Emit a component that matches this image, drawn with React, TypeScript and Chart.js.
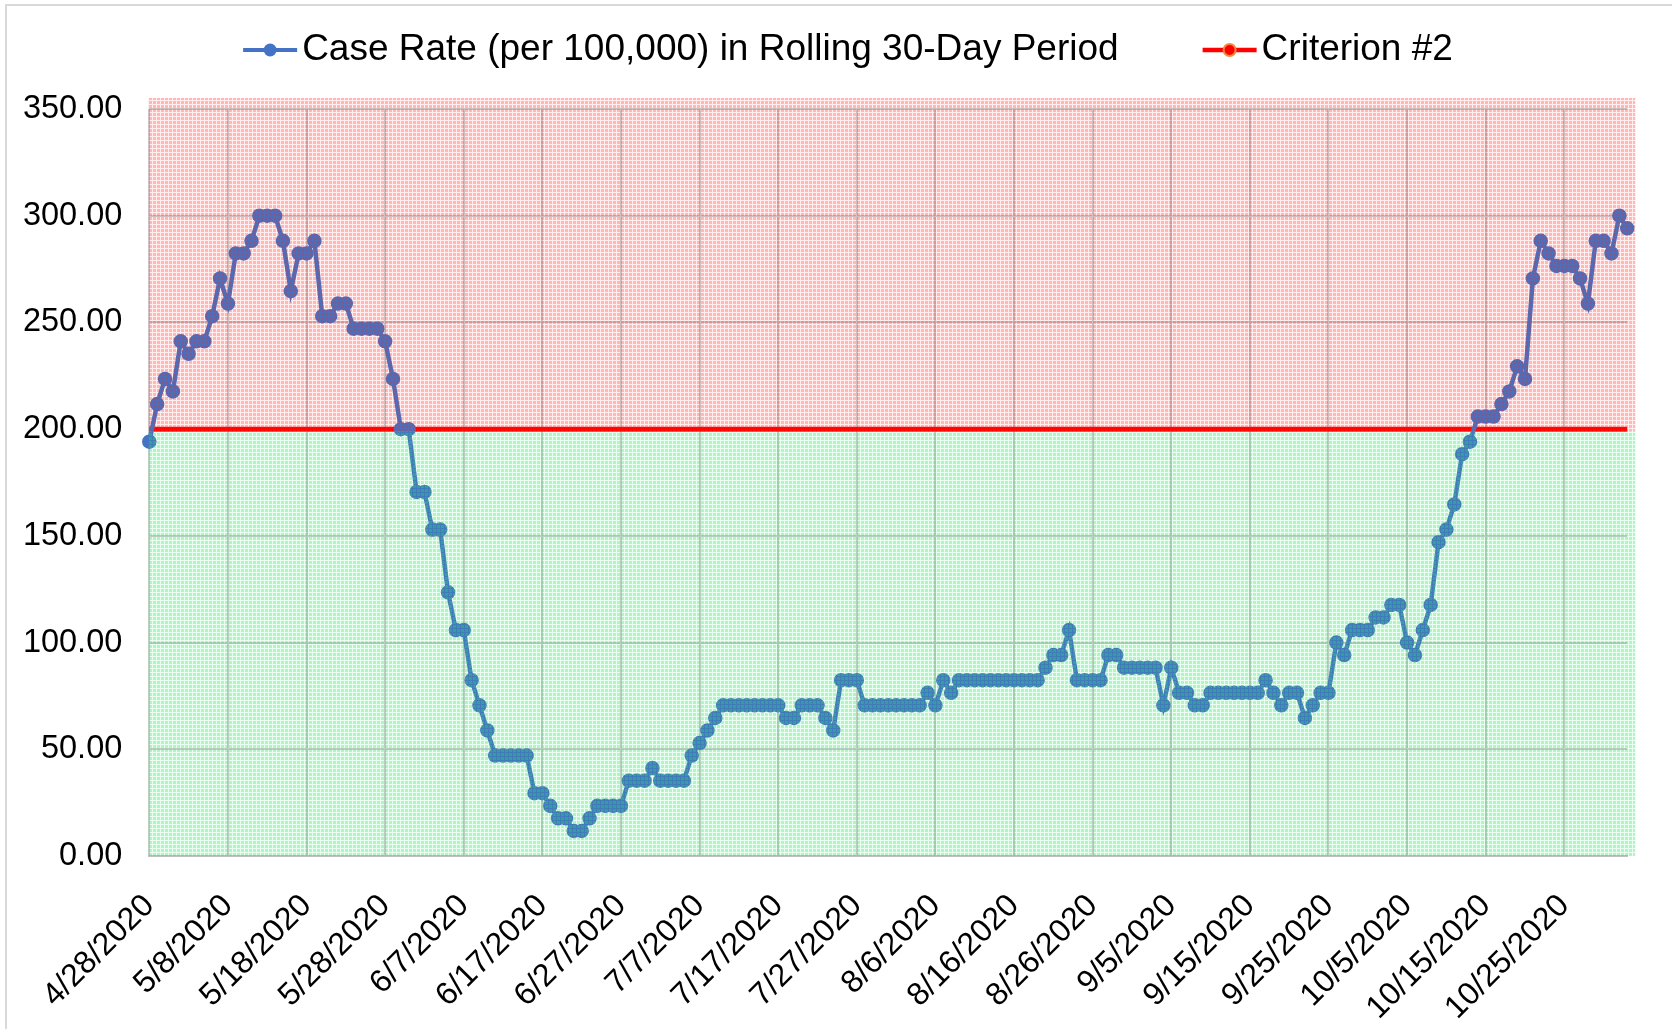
import React, { useEffect, useRef } from "react";
import { Chart, registerables } from "chart.js";

Chart.register(...registerables);

const FONT = "'Liberation Sans', Arial, sans-serif";

const dates = [
  "4/28/2020", "4/29/2020", "4/30/2020",
  "5/1/2020", "5/2/2020", "5/3/2020", "5/4/2020", "5/5/2020", "5/6/2020", "5/7/2020", "5/8/2020", "5/9/2020", "5/10/2020",
  "5/11/2020", "5/12/2020", "5/13/2020", "5/14/2020", "5/15/2020", "5/16/2020", "5/17/2020", "5/18/2020", "5/19/2020", "5/20/2020",
  "5/21/2020", "5/22/2020", "5/23/2020", "5/24/2020", "5/25/2020", "5/26/2020", "5/27/2020", "5/28/2020", "5/29/2020", "5/30/2020", "5/31/2020",
  "6/1/2020", "6/2/2020", "6/3/2020", "6/4/2020", "6/5/2020", "6/6/2020", "6/7/2020", "6/8/2020", "6/9/2020", "6/10/2020",
  "6/11/2020", "6/12/2020", "6/13/2020", "6/14/2020", "6/15/2020", "6/16/2020", "6/17/2020", "6/18/2020", "6/19/2020", "6/20/2020",
  "6/21/2020", "6/22/2020", "6/23/2020", "6/24/2020", "6/25/2020", "6/26/2020", "6/27/2020", "6/28/2020", "6/29/2020", "6/30/2020",
  "7/1/2020", "7/2/2020", "7/3/2020", "7/4/2020", "7/5/2020", "7/6/2020", "7/7/2020", "7/8/2020", "7/9/2020", "7/10/2020",
  "7/11/2020", "7/12/2020", "7/13/2020", "7/14/2020", "7/15/2020", "7/16/2020", "7/17/2020", "7/18/2020", "7/19/2020", "7/20/2020",
  "7/21/2020", "7/22/2020", "7/23/2020", "7/24/2020", "7/25/2020", "7/26/2020", "7/27/2020", "7/28/2020", "7/29/2020", "7/30/2020", "7/31/2020",
  "8/1/2020", "8/2/2020", "8/3/2020", "8/4/2020", "8/5/2020", "8/6/2020", "8/7/2020", "8/8/2020", "8/9/2020", "8/10/2020",
  "8/11/2020", "8/12/2020", "8/13/2020", "8/14/2020", "8/15/2020", "8/16/2020", "8/17/2020", "8/18/2020", "8/19/2020", "8/20/2020",
  "8/21/2020", "8/22/2020", "8/23/2020", "8/24/2020", "8/25/2020", "8/26/2020", "8/27/2020", "8/28/2020", "8/29/2020", "8/30/2020", "8/31/2020",
  "9/1/2020", "9/2/2020", "9/3/2020", "9/4/2020", "9/5/2020", "9/6/2020", "9/7/2020", "9/8/2020", "9/9/2020", "9/10/2020",
  "9/11/2020", "9/12/2020", "9/13/2020", "9/14/2020", "9/15/2020", "9/16/2020", "9/17/2020", "9/18/2020", "9/19/2020", "9/20/2020",
  "9/21/2020", "9/22/2020", "9/23/2020", "9/24/2020", "9/25/2020", "9/26/2020", "9/27/2020", "9/28/2020", "9/29/2020", "9/30/2020",
  "10/1/2020", "10/2/2020", "10/3/2020", "10/4/2020", "10/5/2020", "10/6/2020", "10/7/2020", "10/8/2020", "10/9/2020", "10/10/2020",
  "10/11/2020", "10/12/2020", "10/13/2020", "10/14/2020", "10/15/2020", "10/16/2020", "10/17/2020", "10/18/2020", "10/19/2020", "10/20/2020",
  "10/21/2020", "10/22/2020", "10/23/2020", "10/24/2020", "10/25/2020", "10/26/2020", "10/27/2020", "10/28/2020", "10/29/2020", "10/30/2020", "10/31/2020",
  "11/1/2020", "11/2/2020",
];

const caseRate = [
  194.12, 211.76, 223.53, 217.65, 241.18, 235.29, 241.18, 241.18, 252.94, 270.59,
  258.82, 282.35, 282.35, 288.24, 300.0, 300.0, 300.0, 288.24, 264.71, 282.35,
  282.35, 288.24, 252.94, 252.94, 258.82, 258.82, 247.06, 247.06, 247.06, 247.06,
  241.18, 223.53, 200.0, 200.0, 170.59, 170.59, 152.94, 152.94, 123.53, 105.88,
  105.88, 82.35, 70.59, 58.82, 47.06, 47.06, 47.06, 47.06, 47.06, 29.41,
  29.41, 23.53, 17.65, 17.65, 11.76, 11.76, 17.65, 23.53, 23.53, 23.53,
  23.53, 35.29, 35.29, 35.29, 41.18, 35.29, 35.29, 35.29, 35.29, 47.06,
  52.94, 58.82, 64.71, 70.59, 70.59, 70.59, 70.59, 70.59, 70.59, 70.59,
  70.59, 64.71, 64.71, 70.59, 70.59, 70.59, 64.71, 58.82, 82.35, 82.35,
  82.35, 70.59, 70.59, 70.59, 70.59, 70.59, 70.59, 70.59, 70.59, 76.47,
  70.59, 82.35, 76.47, 82.35, 82.35, 82.35, 82.35, 82.35, 82.35, 82.35,
  82.35, 82.35, 82.35, 82.35, 88.24, 94.12, 94.12, 105.88, 82.35, 82.35,
  82.35, 82.35, 94.12, 94.12, 88.24, 88.24, 88.24, 88.24, 88.24, 70.59,
  88.24, 76.47, 76.47, 70.59, 70.59, 76.47, 76.47, 76.47, 76.47, 76.47,
  76.47, 76.47, 82.35, 76.47, 70.59, 76.47, 76.47, 64.71, 70.59, 76.47,
  76.47, 100.0, 94.12, 105.88, 105.88, 105.88, 111.76, 111.76, 117.65, 117.65,
  100.0, 94.12, 105.88, 117.65, 147.06, 152.94, 164.71, 188.24, 194.12, 205.88,
  205.88, 205.88, 211.76, 217.65, 229.41, 223.53, 270.59, 288.24, 282.35, 276.47,
  276.47, 276.47, 270.59, 258.82, 288.24, 288.24, 282.35, 300.0, 294.12,
];

const criterion = [
  200, 200, 200, 200, 200, 200, 200, 200, 200, 200, 200, 200, 200, 200, 200, 200, 200, 200, 200, 200,
  200, 200, 200, 200, 200, 200, 200, 200, 200, 200, 200, 200, 200, 200, 200, 200, 200, 200, 200, 200,
  200, 200, 200, 200, 200, 200, 200, 200, 200, 200, 200, 200, 200, 200, 200, 200, 200, 200, 200, 200,
  200, 200, 200, 200, 200, 200, 200, 200, 200, 200, 200, 200, 200, 200, 200, 200, 200, 200, 200, 200,
  200, 200, 200, 200, 200, 200, 200, 200, 200, 200, 200, 200, 200, 200, 200, 200, 200, 200, 200, 200,
  200, 200, 200, 200, 200, 200, 200, 200, 200, 200, 200, 200, 200, 200, 200, 200, 200, 200, 200, 200,
  200, 200, 200, 200, 200, 200, 200, 200, 200, 200, 200, 200, 200, 200, 200, 200, 200, 200, 200, 200,
  200, 200, 200, 200, 200, 200, 200, 200, 200, 200, 200, 200, 200, 200, 200, 200, 200, 200, 200, 200,
  200, 200, 200, 200, 200, 200, 200, 200, 200, 200, 200, 200, 200, 200, 200, 200, 200, 200, 200, 200,
  200, 200, 200, 200, 200, 200, 200, 200, 200,
];

const seriesNames = ["Case Rate (per 100,000) in Rolling 30-Day Period", "Criterion #2"];
const yTickValues = [0, 50, 100, 150, 200, 250, 300, 350];
const threshold = 200;

const BLUE = "#4472C4";
const RED = "#FF0000";

function makePattern(ctx: CanvasRenderingContext2D, rgb: string, a1: number, a2: number) {
  const c = document.createElement("canvas");
  c.width = 4;
  c.height = 4;
  const g = c.getContext("2d")!;
  g.fillStyle = `rgba(${rgb},${a1})`;
  g.fillRect(1, 1, 3, 3);
  g.fillStyle = `rgba(${rgb},${a2})`;
  g.fillRect(0, 0, 4, 1);
  g.fillRect(0, 1, 1, 3);
  return ctx.createPattern(c, "repeat")!;
}

const zonesPlugin = {
  id: "zones",
  afterDatasetsDraw(chart: any) {
    const { ctx, chartArea: a, scales } = chart;
    const yT = scales.y.getPixelForValue(threshold) + 2;
    const top = a.top - 11;
    const left = a.left - 1;
    const w = a.right - a.left + 9;
    ctx.save();
    ctx.fillStyle = makePattern(ctx, "255,40,30", 0.33, 0.08);
    ctx.fillRect(left, top, w, yT - top);
    ctx.fillStyle = makePattern(ctx, "30,230,90", 0.36, 0.09);
    ctx.fillRect(left, yT, w, a.bottom - yT);
    ctx.restore();
  },
};

const legendPlugin = {
  id: "customLegend",
  afterDraw(chart: any) {
    const ctx: CanvasRenderingContext2D = chart.ctx;
    ctx.save();
    ctx.font = `37px ${FONT}`;
    ctx.textBaseline = "middle";
    ctx.fillStyle = "#000";
    const y = 50;
    const lineW = 54;
    const gapText = 5;
    const gapItems = 84;
    const w1 = ctx.measureText(seriesNames[0]).width;
    const w2 = ctx.measureText(seriesNames[1]).width;
    const total = lineW + gapText + w1 + gapItems + lineW + gapText + w2;
    let x = 848 - total / 2;
    // item 1
    ctx.strokeStyle = BLUE;
    ctx.lineWidth = 4;
    ctx.beginPath();
    ctx.moveTo(x, y);
    ctx.lineTo(x + lineW, y);
    ctx.stroke();
    ctx.fillStyle = BLUE;
    ctx.beginPath();
    ctx.arc(x + lineW / 2, y, 6.5, 0, Math.PI * 2);
    ctx.fill();
    ctx.fillStyle = "#000";
    ctx.fillText(seriesNames[0], x + lineW + gapText, y);
    x += lineW + gapText + w1 + gapItems;
    // item 2
    ctx.strokeStyle = RED;
    ctx.lineWidth = 4.5;
    ctx.beginPath();
    ctx.moveTo(x, y);
    ctx.lineTo(x + lineW, y);
    ctx.stroke();
    ctx.fillStyle = RED;
    ctx.strokeStyle = "#F08A3C";
    ctx.lineWidth = 2;
    ctx.beginPath();
    ctx.arc(x + lineW / 2, y, 6, 0, Math.PI * 2);
    ctx.fill();
    ctx.stroke();
    ctx.fillStyle = "#000";
    ctx.fillText(seriesNames[1], x + lineW + gapText, y);
    ctx.restore();
  },
};

export default function App() {
  const ref = useRef<HTMLCanvasElement>(null);

  useEffect(() => {
    if (!ref.current) return;
    const chart = new Chart(ref.current, {
      type: "line",
      data: {
        labels: dates,
        datasets: [
          {
            label: seriesNames[0],
            data: caseRate,
            borderColor: BLUE,
            backgroundColor: BLUE,
            borderWidth: 4.5,
            pointRadius: 6.5,
            pointBorderWidth: 1.5,
            pointBorderColor: BLUE,
            pointBackgroundColor: BLUE,
            tension: 0,
          },
          {
            label: seriesNames[1],
            data: criterion,
            borderColor: RED,
            backgroundColor: RED,
            borderWidth: 5,
            pointRadius: 0,
            tension: 0,
          },
        ],
      },
      options: {
        responsive: false,
        animation: false,
        events: [],
        layout: { padding: { top: 109, right: 44.8, left: 0, bottom: 0 } },
        plugins: {
          legend: { display: false },
          tooltip: { enabled: false },
        },
        scales: {
          x: {
            type: "category",
            offset: false,
            grid: {
              color: (c: any) => (c.index % 10 === 0 ? "#CBCBCB" : "rgba(0,0,0,0)"),
              lineWidth: 2,
              drawTicks: false,
            },
            border: { display: true, color: "#BFBFBF", width: 2 },
            ticks: {
              autoSkip: false,
              minRotation: 45,
              maxRotation: 45,
              padding: 31,
              color: "#000",
              font: { family: FONT, size: 32 },
              callback: function (this: any, v: any, i: number) {
                return i % 10 === 0 ? this.getLabelForValue(v) : "";
              },
            },
            afterFit: (s: any) => {
              s.height = 173;
              s.paddingLeft = 0;
              s.paddingRight = 0;
            },
          },
          y: {
            min: 0,
            max: 350,
            afterBuildTicks: (s: any) => {
              s.ticks = yTickValues.map((v) => ({ value: v }));
            },
            grid: { color: "#CBCBCB", lineWidth: 2, drawTicks: false },
            border: { display: false },
            ticks: {
              padding: 27,
              color: "#000",
              font: { family: FONT, size: 32.5 },
              callback: (v: any) => Number(v).toFixed(2),
            },
            afterFit: (s: any) => {
              s.width = 149.3;
              s.paddingTop = 0;
              s.paddingBottom = 0;
            },
          },
        },
      },
      plugins: [zonesPlugin, legendPlugin],
    } as any);
    return () => chart.destroy();
  }, []);

  return (
    <div
      style={{
        position: "fixed",
        left: 0,
        top: 0,
        width: 1672,
        height: 1029,
        background: "#fff",
        overflow: "hidden",
      }}
    >
      <div
        style={{
          position: "absolute",
          left: 5,
          top: 4,
          width: 1700,
          height: 1100,
          borderLeft: "2px solid #D9D9D9",
          borderTop: "2px solid #D9D9D9",
        }}
      />
      <canvas
        ref={ref}
        width={1672}
        height={1029}
        style={{ position: "absolute", left: 0, top: 0, width: 1672, height: 1029 }}
      />
    </div>
  );
}
